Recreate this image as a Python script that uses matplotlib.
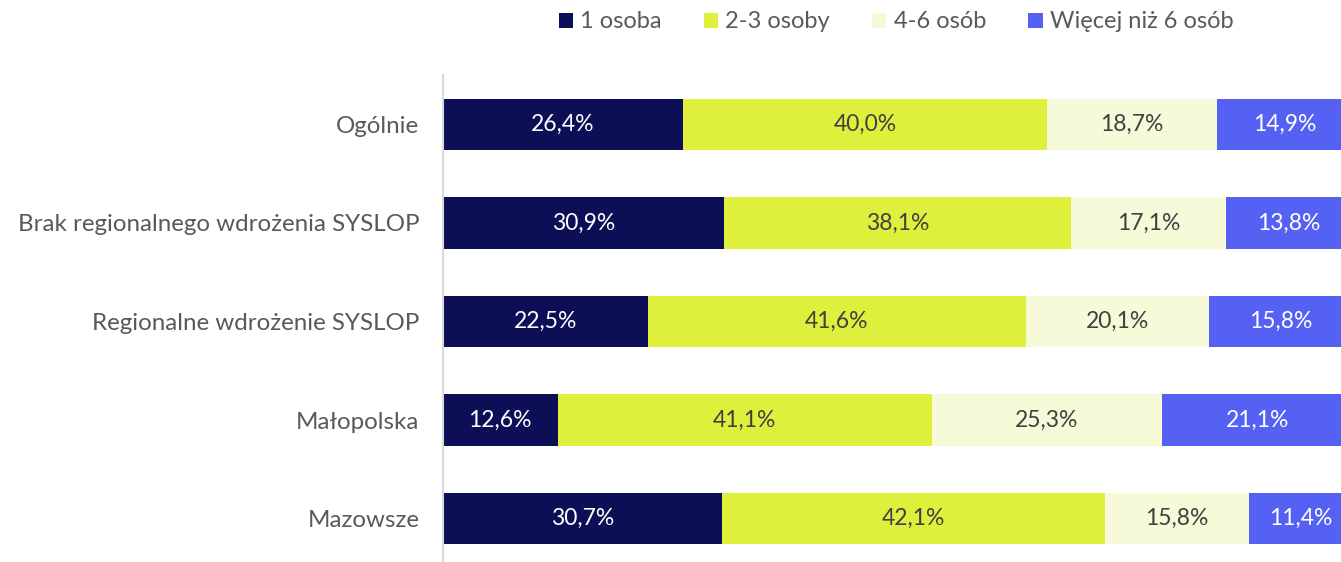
import matplotlib.pyplot as plt
import numpy as np

plt.rcParams['font.family'] = ['Lato', 'DejaVu Sans']

categories = ["Ogólnie", "Brak regionalnego wdrożenia SYSLOP", "Regionalne wdrożenie SYSLOP",
              "Małopolska", "Mazowsze"]
series_names = ["1 osoba", "2-3 osoby", "4-6 osób", "Więcej niż 6 osób"]
one_person = [26.4, 30.9, 22.5, 12.6, 30.7]
two_three = [40.0, 38.1, 41.6, 41.1, 42.1]
four_six = [18.7, 17.1, 20.1, 25.3, 15.8]
more_six = [14.9, 13.8, 15.8, 21.1, 11.4]

colors = ["#0c0f55", "#dff03c", "#f6fad8", "#5561f2"]
text_colors = ["white", "#404040", "#404040", "white"]

fig = plt.figure(figsize=(13.41, 5.62), dpi=100)
ax = fig.add_axes([443 / 1341, 0, 1 - 443 / 1341, (562 - 75) / 562])

y = np.arange(len(categories))
left = np.zeros(len(categories))
for name, vals, col, tcol in zip(series_names, [one_person, two_three, four_six, more_six],
                                 colors, text_colors):
    vals = np.array(vals)
    ax.barh(y, vals, left=left, height=0.52, color=col, label=name)
    for xi, yi, v in zip(left + vals / 2, y, vals):
        ax.text(xi, yi, f"{v:.1f}%".replace(".", ","), ha="center", va="center",
                color=tcol, fontsize=16.5)
    left += vals

ax.set_xlim(0, 98.7)
ax.set_ylim(4.44, -0.5)
ax.set_yticks(y)
ax.set_yticklabels(categories, fontsize=17.4, color="#595959")
ax.tick_params(axis="y", length=0, pad=17)
ax.set_xticks([])
for s in ["top", "right", "bottom"]:
    ax.spines[s].set_visible(False)
ax.spines["left"].set_color("#d9d9d9")
ax.spines["left"].set_linewidth(1.5)

fig.legend(loc="center", bbox_to_anchor=(896 / 1341, 1 - 22 / 562), ncol=4, frameon=False,
           fontsize=17, handlelength=0.6, handleheight=0.6, handletextpad=0.3,
           columnspacing=1.8, labelcolor="#595959")

fig.savefig("out.png", dpi=100)
